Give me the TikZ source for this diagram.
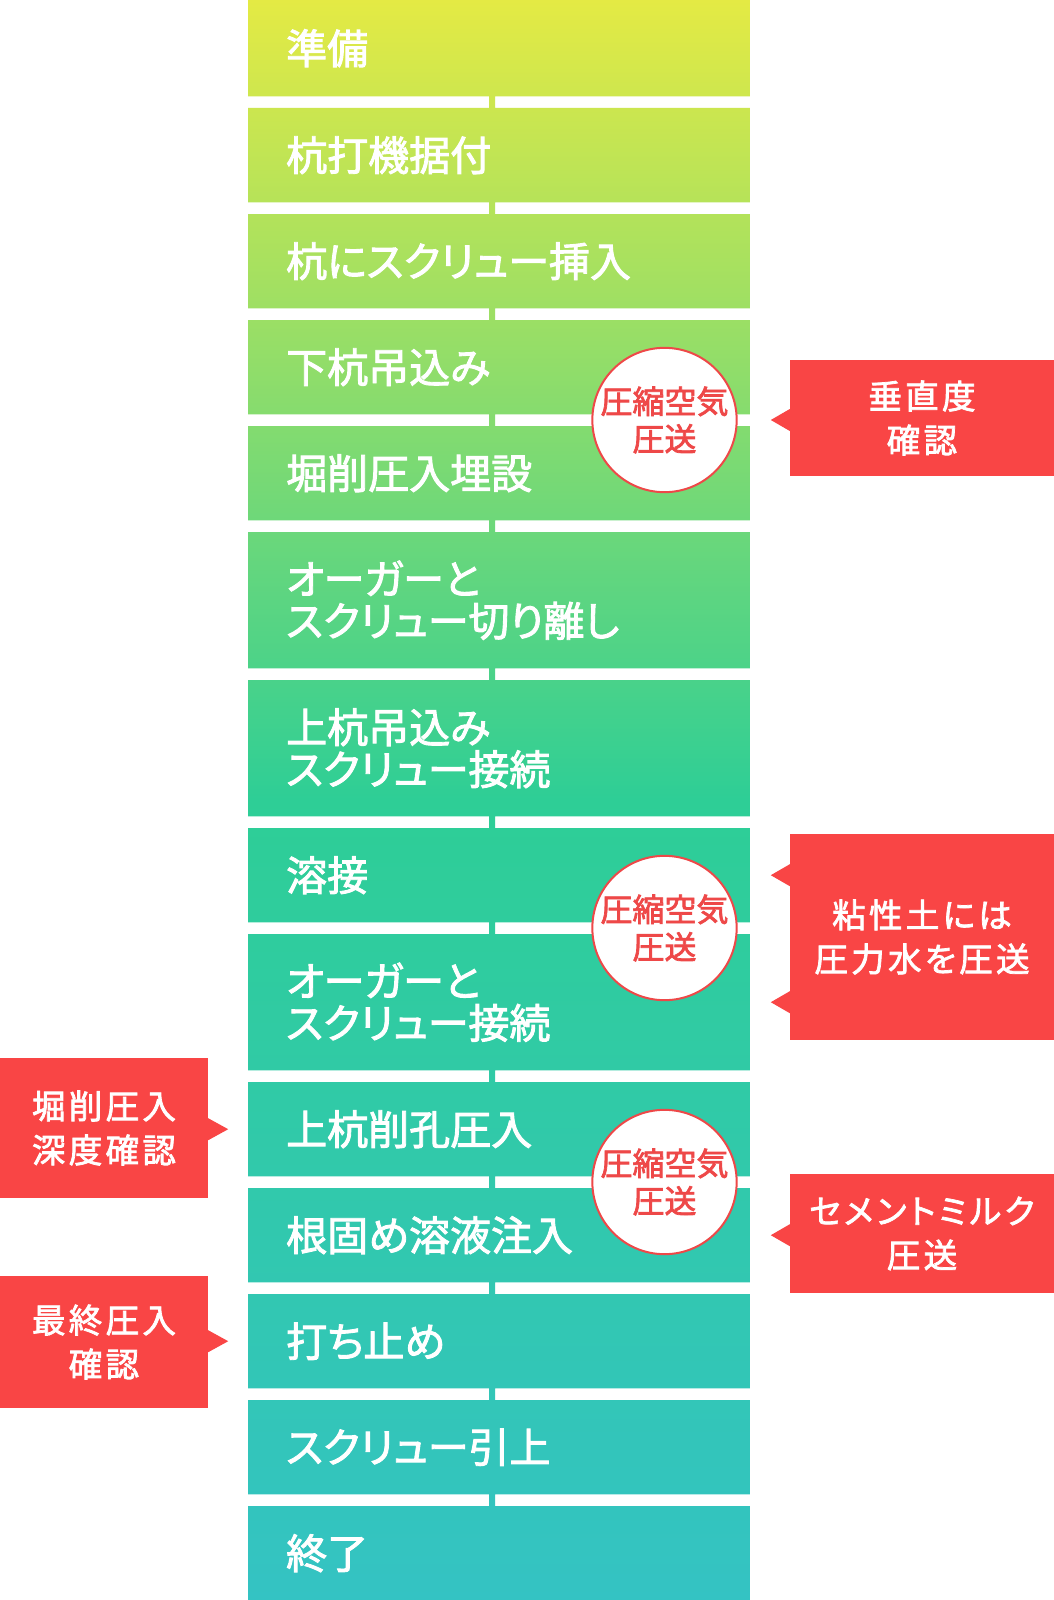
\documentclass[tikz,border=0pt]{standalone}
\usepackage{fontspec}
\setmainfont{Noto Sans CJK JP}[FakeBold=2.2, RawFeature=+palt]
\newfontfamily\jpespace{Noto Sans CJK JP}[LetterSpace=10, FakeBold=2.2, RawFeature=+palt]
\usetikzlibrary{positioning, backgrounds, calc}
\definecolor{rouge}{RGB}{249,69,69}
\definecolor{rougetexte}{RGB}{238,72,72}
\definecolor{jaune}{RGB}{228,234,68}
\definecolor{vert}{RGB}{46,206,150}
\definecolor{turquoise}{RGB}{52,195,195}
\pgfdeclareverticalshading{colonne}{100bp}{color(0bp)=(turquoise); color(25bp)=(turquoise); color(50bp)=(vert); color(75bp)=(jaune); color(100bp)=(jaune)}

\begin{document}
\begin{tikzpicture}[x=1pt, y=-1pt,
	etape/.style={anchor=north west, inner xsep=38pt, inner ysep=0pt, text width=426pt, align=left, text=white, font=\fontsize{41}{42}\selectfont},
	bulle/.style={circle, draw=rougetexte, line width=2pt, fill=white, minimum size=141pt, inner sep=0pt, align=center, text=rougetexte, font=\fontsize{32}{37.5}\selectfont},
	note/.style={fill=rouge, text=white, inner sep=0pt, align=center, font=\jpespace\fontsize{33.5}{44}\selectfont}]
				\useasboundingbox (0,0) rectangle (1054,1600);
				% étapes
				\foreach \nom/\haut/\h/\txt in {junbi/0/96/準備, suetsuke/108/94/杭打機据付,
					sonyu/214/94/杭にスクリュー挿入, tsurikomi/320/94/下杭吊込み,
					kussaku/426/94/堀削圧入埋設, kirihanashi/532/136/{オーガーと\\スクリュー切り離し},
					setsuzoku/680/136/{上杭吊込み\\スクリュー接続}, yosetsu/828/94/溶接,
					auger/934/136/{オーガーと\\スクリュー接続}, sakko/1082/94/上杭削孔圧入,
					nekatame/1188/94/根固め溶液注入, uchidome/1294/94/打ち止め,
					hikiage/1400/94/スクリュー引上, shuryo/1506/94/終了}
					\node[etape, minimum height=\h pt] (\nom) at (248,\haut) {\txt};
				% dégradé des étapes et liaisons
				\begin{scope}[on background layer]
					\fill[white] (0,0) rectangle (1054,1600);
					\clip foreach \a in {junbi, suetsuke, sonyu, tsurikomi, kussaku, kirihanashi, setsuzoku,
						yosetsu, auger, sakko, nekatame, uchidome, hikiage, shuryo}
						{(\a.north west) rectangle (\a.south east)}
						foreach \a/\b in {junbi/suetsuke, suetsuke/sonyu, sonyu/tsurikomi, tsurikomi/kussaku,
						kussaku/kirihanashi, kirihanashi/setsuzoku, setsuzoku/yosetsu, yosetsu/auger,
						auger/sakko, sakko/nekatame, nekatame/uchidome, uchidome/hikiage, hikiage/shuryo}
						{([xshift=-10pt]\a.south) rectangle ([xshift=-4pt]\b.north)};
					\shade[shading=colonne] (248,0) rectangle (750,1600);
				\end{scope}
				% bulles
				\node[bulle] (air1) at (664.5,420) {圧縮空気\\圧送};
				\node[bulle] (air2) at (664.5,928) {圧縮空気\\圧送};
				\node[bulle] (air3) at (664.5,1182) {圧縮空気\\圧送};
				% remarques
				\node[note, minimum width=264pt, minimum height=116pt] (verticalite) at (922,418) {垂直度\\確認};
				\node[note, minimum width=264pt, minimum height=206pt] (eau) at (922,937) {粘性土には\\圧力水を圧送};
				\node[note, minimum width=264pt, minimum height=119pt] (ciment) at (922,1233.5) {セメントミルク\\圧送};
				\node[note, minimum width=208pt, minimum height=140pt] (profondeur) at (104,1128) {堀削圧入\\深度確認};
				\node[note, minimum width=208pt, minimum height=132pt] (final) at (104,1342) {最終圧入\\確認};
				% pointes
				\foreach \n/\c in {verticalite/air1, eau/yosetsu, eau/auger, ciment/nekatame}
					\fill[rouge] ($(\n.west |- \c.east)+(0,-11)$) -- ++(-19,11) -- ++(19,11) -- cycle;
				\foreach \n/\c in {profondeur/sakko, final/uchidome}
					\fill[rouge] ($(\n.east |- \c.west)+(0,-11)$) -- ++(20,11) -- ++(-20,11) -- cycle;
			\end{tikzpicture}
\end{document}
